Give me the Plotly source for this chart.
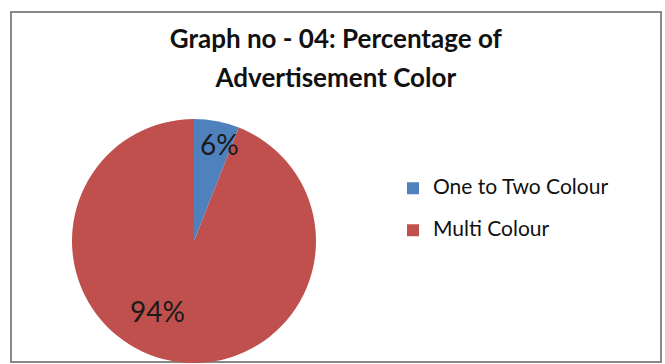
import math
import plotly.graph_objects as go

# ---- data ----
categories = ["One to Two Colour", "Multi Colour"]
values = [6, 94]
pct_labels = ["6%", "94%"]
title_lines = ["Graph no - 04: Percentage of", "Advertisement Color"]

# ---- styles ----
colors = ["#4F81BD", "#C0504D"]
W, H = 665, 364
cx, cy, R = 194, 241, 122          # pie centre / radius in px (from top-left)
label_rfrac = [0.82, 0.65]          # radial position of the % labels ("best fit")
label_dangle = [4, 17]              # angular nudge (deg) from slice mid-angle
FONT = "Lato"

dom_x = [(cx - R) / W, (cx + R) / W]
dom_y = [(H - cy - R) / H, (H - cy + R) / H]

legend_names = [f"<span style='font-size:21px'>{c}</span><br> " for c in categories]

fig = go.Figure(go.Pie(
    labels=legend_names, values=values, sort=False,
    direction="clockwise", rotation=0,
    marker=dict(colors=colors, line=dict(width=0)),
    textinfo="none", hoverinfo="skip",
    domain=dict(x=dom_x, y=dom_y),
))

# percentage labels placed relative to each slice's mid-angle
total = sum(values)
cum = 0
for v, txt, rf, da in zip(values, pct_labels, label_rfrac, label_dangle):
    mid = (cum + v / 2) / total * 2 * math.pi + math.radians(da)
    cum += v
    px = cx + rf * R * math.sin(mid)
    py = cy - rf * R * math.cos(mid)
    fig.add_annotation(x=px / W, y=(H - py) / H, xref="paper", yref="paper",
                       xanchor="center", yanchor="middle",
                       text=txt, showarrow=False,
                       font=dict(family=FONT, size=28, color="#1a1a1a"))

title_txt = "<br>".join(f"<span style='font-size:26px'>{t}</span>" for t in title_lines)

fig.update_layout(
    width=W, height=H,
    margin=dict(l=0, r=0, t=0, b=0),
    paper_bgcolor="white", plot_bgcolor="white",
    title=dict(text=title_txt, x=0.505, xanchor="center", xref="paper",
               y=1 - 48 / H, yanchor="top", yref="container",
               font=dict(family=FONT, size=30, color="#111111", weight="bold")),
    showlegend=True,
    legend=dict(x=393 / W, y=(H - 172) / H, xanchor="left", yanchor="top",
                font=dict(family=FONT, size=15, color="#111111"),
                valign="top", bgcolor="rgba(0,0,0,0)", traceorder="normal"),
    shapes=[dict(type="rect", xref="paper", yref="paper",
                 x0=11 / W, x1=661 / W, y0=(H - 362) / H, y1=(H - 12) / H,
                 line=dict(color="#888888", width=2), layer="below")],
)

fig.write_html("out.html", config={"displayModeBar": False},
               post_script="document.body.style.margin='0';")
